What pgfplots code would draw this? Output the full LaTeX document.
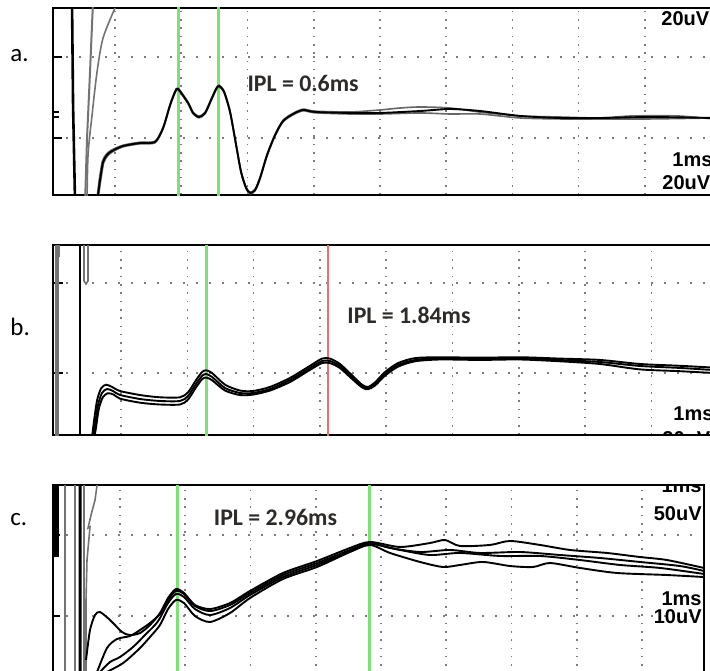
\documentclass[border=0pt]{standalone}
\usepackage{fontspec}
\setmainfont{Carlito}
\newfontfamily\scopefont{Liberation Sans}
\usepackage{pgfplots}
\pgfplotsset{compat=1.18}

\definecolor{cursor}{RGB}{125,225,115}
\definecolor{cursorred}{RGB}{240,110,110}
\definecolor{griddot}{RGB}{125,125,125}
\definecolor{iplink}{RGB}{45,42,40}

% one scope screen = one panel; 1 ms / div on x, 1 div on y
\pgfplotsset{
  panel/.style={
    scale only axis, width=330pt,
    xtick={1,...,9}, ytick={0,1},
    xticklabels={}, yticklabels={},
    xmajorgrids, ymajorgrids,
    x grid style={griddot, line width=0.8pt, dash pattern=on 0.8pt off 3.35pt},
    y grid style={griddot, line width=0.8pt, dash pattern=on 0.9pt off 5.6pt},
    tick align=inside, ytick pos=left,
    x tick style={draw=none},
    y tick style={black, line width=1pt},
    major tick length=4.5pt,
    axis line style={line width=1pt},
  },
  trace/.style={black, line width=0.95pt, smooth, tension=0.45},
  gtrace/.style={black!55, line width=0.8pt},
}
\newcommand{\scopelbl}{\scopefont\bfseries\fontsize{10}{12}\selectfont}
\newcommand{\ipl}{\bfseries\fontsize{11.9}{14}\selectfont\color{iplink}}

\begin{document}
\begin{tikzpicture}
\path[use as bounding box] (0pt,0pt) rectangle (355pt,335pt);

% ---------------- a.
\begin{axis}[panel, at={(26.5pt,237.5pt)}, anchor=south west, height=93.5pt,
  xmin=0.063, xmax=10.03, ymin=-0.704, ymax=1.605,
  extra y ticks={0.259,0.321}, extra y tick labels={},
  extra y tick style={grid=none, major tick length=3pt}]
\addplot[cursor, line width=1.5pt] coordinates {(1.952,-1) (1.952,2)};
\addplot[cursor, line width=1.5pt] coordinates {(2.556,-1) (2.556,2)};
% stimulus artefact
\addplot[black, line width=1.3pt] coordinates {(0.350,1.7) (0.366,0.407) (0.396,-0.8)};
\addplot[gtrace, line width=1pt] coordinates {(0.668,1.7) (0.622,0.815) (0.577,0) (0.547,-0.8)};
\addplot[gtrace, smooth] coordinates {(1.0,1.605) (0.819,1.235) (0.728,0.815) (0.653,0.284) (0.592,-0.210) (0.577,-0.8)};
% responses
\addplot[trace, black!60, line width=0.8pt] coordinates {
 (0.733,-0.704) (0.763,-0.509) (0.809,-0.286) (0.869,-0.200) (0.945,-0.150) (1.121,-0.089)
 (1.378,-0.052) (1.604,-0.039) (1.725,0.133) (1.831,0.417) (1.906,0.578) (1.952,0.615)
 (2.103,0.442) (2.178,0.319) (2.269,0.269) (2.360,0.319) (2.450,0.479) (2.526,0.615)
 (2.571,0.652) (2.647,0.578) (2.737,0.331) (2.828,-0.076) (2.903,-0.410) (2.979,-0.607)
 (3.039,-0.669) (3.115,-0.632) (3.190,-0.484) (3.296,-0.200) (3.417,0.047) (3.538,0.220)
 (3.689,0.306) (3.840,0.356) (4.021,0.331) (4.550,0.321) (5.003,0.346) (5.300,0.370)
 (5.607,0.383) (6.060,0.370) (6.514,0.320) (7.118,0.272) (7.722,0.259) (8.326,0.247)
 (8.800,0.272) (9.500,0.272) (10.03,0.235)};
\addplot[trace, black!60, line width=0.8pt] coordinates {
 (0.753,-0.704) (0.783,-0.529) (0.829,-0.306) (0.889,-0.220) (0.965,-0.170) (1.121,-0.109)
 (1.378,-0.072) (1.604,-0.059) (1.725,0.113) (1.831,0.397) (1.906,0.558) (1.952,0.595)
 (2.103,0.422) (2.178,0.299) (2.269,0.249) (2.360,0.299) (2.450,0.459) (2.526,0.595)
 (2.571,0.632) (2.647,0.558) (2.737,0.311) (2.828,-0.096) (2.903,-0.430) (2.979,-0.627)
 (3.039,-0.689) (3.115,-0.652) (3.190,-0.504) (3.296,-0.220) (3.417,0.027) (3.538,0.200)
 (3.689,0.286) (3.840,0.336) (4.021,0.311) (4.550,0.296) (5.003,0.296) (5.607,0.309)
 (6.060,0.296) (6.514,0.296) (7.118,0.247) (7.722,0.235) (8.326,0.235) (9.080,0.235)
 (10.03,0.247)};
\addplot[trace] coordinates {
 (0.743,-0.704) (0.773,-0.519) (0.819,-0.296) (0.879,-0.210) (0.955,-0.160) (1.121,-0.099)
 (1.378,-0.062) (1.604,-0.049) (1.725,0.123) (1.831,0.407) (1.906,0.568) (1.952,0.605)
 (2.103,0.432) (2.178,0.309) (2.269,0.259) (2.360,0.309) (2.450,0.469) (2.526,0.605)
 (2.571,0.642) (2.647,0.568) (2.737,0.321) (2.828,-0.086) (2.903,-0.420) (2.979,-0.617)
 (3.039,-0.679) (3.115,-0.642) (3.190,-0.494) (3.296,-0.210) (3.417,0.037) (3.538,0.210)
 (3.689,0.296) (3.840,0.346) (4.021,0.321) (4.550,0.309) (5.003,0.309) (5.607,0.333)
 (6.060,0.358) (6.514,0.333) (7.118,0.272) (7.722,0.247) (8.326,0.247) (9.080,0.259)
 (10.03,0.247)};
\node[font=\ipl] at (axis cs:3.84,0.679) {IPL = 0.6ms};
\end{axis}

% ---------------- b.
\begin{axis}[panel, at={(26.5pt,117.5pt)}, anchor=south west, height=95pt,
  xmin=-0.026, xmax=9.93, ymin=-0.689, ymax=1.422, major tick length=5pt]
\addplot[cursor, line width=1.5pt] coordinates {(2.282,-1) (2.282,2)};
\addplot[cursorred, line width=1.1pt] coordinates {(4.122,-1) (4.122,2)};
% stimulus artefact
\addplot[black!55, line width=2pt] coordinates {(0.030,1.5) (0.030,-0.8)};
\addplot[gtrace] coordinates {(0.065,1.5) (0.065,1.289)};
\addplot[black, line width=0.8pt] coordinates {(0.382,1.5) (0.382,-0.8)};
\addplot[gtrace] coordinates {(0.442,1.5) (0.442,1.022) (0.472,0.989) (0.502,1.022) (0.502,1.5)};
% responses
\addplot[trace] coordinates {
 (0.565,-0.700) (0.595,-0.520) (0.640,-0.300) (0.700,-0.170) (0.775,-0.130) (0.865,-0.155)
 (0.985,-0.200) (1.287,-0.245) (1.588,-0.270) (1.890,-0.270) (2.011,-0.215) (2.131,-0.080)
 (2.222,0.010) (2.282,0.030) (2.373,0.000) (2.569,-0.130) (2.795,-0.195) (2.991,-0.200)
 (3.247,-0.155) (3.549,-0.055) (3.851,0.080) (4.032,0.160) (4.152,0.160) (4.303,0.100)
 (4.484,-0.025) (4.635,-0.130) (4.725,-0.155) (4.831,-0.105) (4.982,0.010) (5.178,0.110)
 (5.434,0.165) (5.811,0.175) (6.415,0.170) (7.018,0.175) (7.621,0.160) (8.225,0.145)
 (8.828,0.100) (9.431,0.080) (9.930,0.060)};
\addplot[trace] coordinates {
 (0.578,-0.744) (0.608,-0.578) (0.653,-0.356) (0.713,-0.222) (0.789,-0.178) (0.879,-0.200)
 (0.985,-0.244) (1.287,-0.289) (1.588,-0.311) (1.890,-0.311) (2.011,-0.256) (2.131,-0.122)
 (2.222,-0.033) (2.282,-0.011) (2.373,-0.044) (2.569,-0.167) (2.795,-0.222) (2.991,-0.222)
 (3.247,-0.178) (3.549,-0.078) (3.851,0.056) (4.032,0.133) (4.152,0.133) (4.303,0.078)
 (4.484,-0.044) (4.635,-0.144) (4.725,-0.167) (4.831,-0.122) (4.982,-0.011) (5.178,0.089)
 (5.434,0.144) (5.811,0.167) (6.415,0.156) (7.018,0.167) (7.621,0.144) (8.225,0.122)
 (8.828,0.078) (9.431,0.056) (9.930,0.033)};
\addplot[trace] coordinates {
 (0.590,-0.744) (0.620,-0.620) (0.665,-0.400) (0.725,-0.270) (0.800,-0.225) (0.890,-0.240)
 (0.985,-0.285) (1.287,-0.330) (1.588,-0.350) (1.890,-0.350) (2.011,-0.295) (2.131,-0.160)
 (2.222,-0.070) (2.282,-0.050) (2.373,-0.080) (2.569,-0.195) (2.795,-0.245) (2.991,-0.240)
 (3.247,-0.195) (3.549,-0.100) (3.851,0.035) (4.032,0.110) (4.152,0.110) (4.303,0.055)
 (4.484,-0.065) (4.635,-0.160) (4.725,-0.180) (4.831,-0.140) (4.982,-0.030) (5.178,0.070)
 (5.434,0.130) (5.811,0.150) (6.415,0.145) (7.018,0.150) (7.621,0.130) (8.225,0.100)
 (8.828,0.040) (9.431,0.020) (9.930,0.000)};
\node[font=\ipl] at (axis cs:5.344,0.644) {IPL = 1.84ms};
\end{axis}

% ---------------- c.
\begin{axis}[panel, at={(26.5pt,-2pt)}, anchor=south west, width=325.5pt, height=94.5pt,
  xmin=-0.027, xmax=9.95, ymin=-0.716, ymax=1.617, major tick length=3.5pt]
\addplot[cursor, line width=1.5pt] coordinates {(1.874,-1) (1.874,2)};
\addplot[cursor, line width=1.5pt] coordinates {(4.831,-1) (4.831,2)};
% stimulus artefact
\addplot[black, line width=2.2pt] coordinates {(0.025,1.7) (0.025,0.728)};
\addplot[gtrace] coordinates {(0.157,1.7) (0.157,-0.8)};
\addplot[gtrace] coordinates {(0.310,1.7) (0.310,-0.8)};
\addplot[black, line width=1.5pt] coordinates {(0.387,1.7) (0.390,0.5) (0.387,-0.8)};
\addplot[gtrace] coordinates {(0.448,1.7) (0.448,-0.8)};
\addplot[gtrace] coordinates {(0.663,1.7) (0.617,1.432) (0.556,1.247) (0.510,1.086) (0.540,1.100)
 (0.494,0.691) (0.479,0.198) (0.479,-0.8)};
% responses
\addplot[trace] coordinates {
 (0.479,-0.543) (0.540,-0.173) (0.617,0.012) (0.693,0.049) (0.847,-0.049) (1.031,-0.198)
 (1.153,-0.235) (1.307,-0.210) (1.460,-0.111) (1.613,0.037) (1.736,0.222) (1.858,0.333)
 (1.981,0.284) (2.149,0.136) (2.379,0.086) (2.686,0.160) (2.992,0.309) (3.498,0.531)
 (4.019,0.679) (4.525,0.840) (4.831,0.914) (5.291,0.852) (5.751,0.901) (5.981,0.938)
 (6.211,0.864) (6.671,0.877) (6.977,0.926) (7.437,0.877) (7.897,0.815) (8.464,0.778)
 (8.969,0.728) (9.383,0.691) (9.950,0.593)};
\addplot[trace] coordinates {
 (0.648,-0.691) (0.801,-0.395) (0.954,-0.284) (1.153,-0.247) (1.307,-0.173) (1.460,-0.086)
 (1.613,0.025) (1.736,0.198) (1.858,0.309) (1.981,0.272) (2.149,0.123) (2.379,0.061)
 (2.686,0.136) (2.992,0.284) (3.498,0.506) (4.019,0.654) (4.525,0.815) (4.831,0.901)
 (5.138,0.840) (5.598,0.790) (6.057,0.815) (6.517,0.778) (7.130,0.790) (7.743,0.753)
 (8.356,0.716) (8.969,0.667) (9.582,0.617) (9.950,0.556)};
\addplot[trace] coordinates {
 (0.693,-0.691) (0.847,-0.568) (1.000,-0.506) (1.199,-0.383) (1.383,-0.235) (1.536,-0.111)
 (1.613,-0.025) (1.736,0.160) (1.858,0.272) (1.981,0.235) (2.149,0.086) (2.379,0.012)
 (2.686,0.099) (2.992,0.259) (3.498,0.481) (4.019,0.630) (4.525,0.802) (4.831,0.889)
 (5.291,0.815) (5.751,0.753) (6.211,0.778) (6.824,0.741) (7.437,0.741) (8.050,0.691)
 (8.663,0.630) (9.276,0.593) (9.950,0.519)};
\addplot[trace] coordinates {
 (0.801,-0.691) (1.000,-0.605) (1.107,-0.543) (1.307,-0.395) (1.460,-0.259) (1.613,-0.111)
 (1.736,0.086) (1.858,0.198) (1.981,0.160) (2.149,0.000) (2.379,-0.074) (2.686,0.037)
 (2.992,0.222) (3.498,0.457) (4.019,0.605) (4.525,0.790) (4.831,0.877) (5.138,0.778)
 (5.598,0.667) (5.950,0.605) (6.211,0.630) (6.563,0.667) (6.977,0.617) (7.330,0.605)
 (7.590,0.654) (8.050,0.593) (8.617,0.531) (9.383,0.506) (9.950,0.481)};
\node[font=\ipl] at (axis cs:3.383,1.222) {IPL = 2.96ms};
\end{axis}

% panel letters
\node[anchor=base west, inner sep=0, font=\fontsize{12.5}{15}\selectfont] at (5pt,304pt) {a.};
\node[anchor=base west, inner sep=0, font=\fontsize{12.5}{15}\selectfont] at (5pt,167.5pt) {b.};
\node[anchor=base west, inner sep=0, font=\fontsize{12.5}{15}\selectfont] at (5pt,72.5pt) {c.};

% scope settings printed on the screen
\node[anchor=west, inner sep=0, font=\scopelbl] at (330.5pt,325.5pt) {20uV};
\node[anchor=west, inner sep=0, font=\scopelbl] at (336pt,255.25pt) {1ms};
\node[anchor=west, inner sep=0, font=\scopelbl] at (331pt,243.75pt) {20uV};
\node[anchor=west, inner sep=0, font=\scopelbl] at (336.5pt,128.25pt) {1ms};
\begin{scope}
\clip (300pt,118pt) rectangle (355pt,130pt);
\node[anchor=west, inner sep=0, font=\scopelbl] at (331pt,115.5pt) {20uV};
\end{scope}
\begin{scope}
\clip (300pt,60pt) rectangle (355pt,92pt);
\node[anchor=east, inner sep=0, font=\scopelbl] at (351pt,92pt) {1ms};
\end{scope}
\node[anchor=east, inner sep=0, font=\scopelbl] at (351pt,78.25pt) {50uV};
\node[anchor=east, inner sep=0, font=\scopelbl] at (351pt,35.5pt) {1ms};
\node[anchor=east, inner sep=0, font=\scopelbl] at (351pt,26.5pt) {10uV};
\end{tikzpicture}
\end{document}
